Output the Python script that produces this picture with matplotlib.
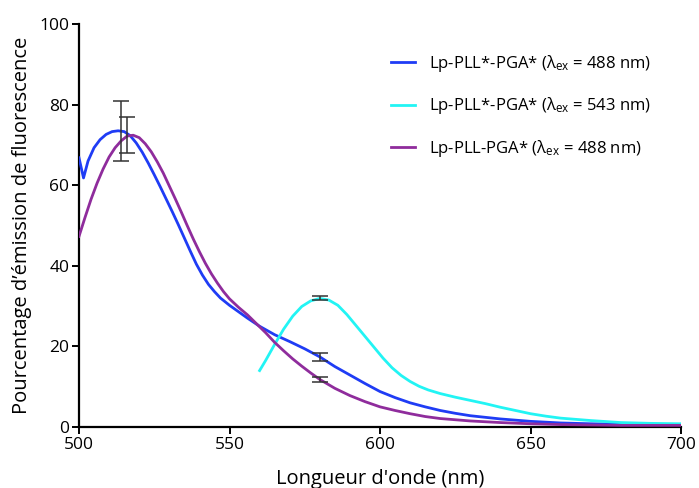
import matplotlib
matplotlib.use("Agg")
import matplotlib.pyplot as plt

plt.rcParams['font.family'] = ['Open Sans', 'DejaVu Sans']
plt.rcParams['mathtext.fontset'] = 'custom'
plt.rcParams['mathtext.rm'] = 'Open Sans'
plt.rcParams['mathtext.it'] = 'Open Sans'

# Lp-PLL*-PGA* (λex = 488 nm)
blue_x = [500, 501.5, 503, 505, 507, 509, 511, 513, 515, 517, 519, 521, 523, 525, 527,
          529, 531, 533, 535, 537, 539, 541, 543, 545, 547, 550, 553, 556, 560, 565,
          570, 575, 580, 585, 590, 595, 600, 605, 610, 615, 620, 625, 630, 640, 650,
          660, 670, 680, 690, 700]
blue_y = [66.8, 61.8, 66.0, 69.3, 71.3, 72.6, 73.3, 73.5, 73.3, 72.3, 70.5, 68.2, 65.5, 62.6, 59.6,
          56.5, 53.4, 50.2, 46.9, 43.6, 40.4, 37.7, 35.4, 33.6, 32.0, 30.2, 28.6, 27.0, 25.0, 22.9,
          21.2, 19.4, 17.4, 15.0, 12.9, 10.8, 8.8, 7.3, 6.0, 5.0, 4.1, 3.4, 2.8, 2.0, 1.4,
          1.0, 0.8, 0.7, 0.6, 0.6]

# Lp-PLL*-PGA* (λex = 543 nm)
cyan_x = [560, 562, 565, 568, 571, 574, 577, 580, 583, 586, 589, 592, 595, 598, 601,
          604, 607, 610, 613, 616, 620, 625, 630, 635, 640, 645, 650, 655, 660, 670,
          680, 690, 700]
cyan_y = [14.0, 16.5, 20.5, 24.3, 27.5, 29.9, 31.3, 31.9, 31.5, 30.2, 27.9, 25.2, 22.5, 19.8, 17.1,
          14.7, 12.8, 11.3, 10.1, 9.2, 8.3, 7.4, 6.6, 5.8, 4.9, 4.1, 3.3, 2.7, 2.2, 1.6,
          1.1, 0.9, 0.8]

# Lp-PLL-PGA* (λex = 488 nm)
purple_x = [500, 502, 504, 506, 508, 510, 512, 514, 516, 518, 520, 522, 524, 526, 528,
            530, 532, 534, 536, 538, 540, 542, 544, 546, 548, 550, 553, 556, 559, 562,
            565, 568, 571, 574, 577, 580, 585, 590, 595, 600, 605, 610, 615, 620, 630,
            640, 650, 660, 670, 680, 700]
purple_y = [47.3, 52.0, 56.5, 60.5, 64.0, 67.0, 69.3, 71.0, 72.2, 72.4, 71.8, 70.3, 68.3, 65.8, 63.0,
            59.8, 56.6, 53.3, 49.9, 46.6, 43.5, 40.6, 38.0, 35.7, 33.6, 31.8, 29.7, 27.8, 25.6, 23.4,
            21.0, 18.9, 16.9, 15.1, 13.4, 11.8, 9.6, 7.8, 6.3, 5.0, 4.1, 3.3, 2.6, 2.1, 1.5,
            1.1, 0.8, 0.6, 0.5, 0.4, 0.4]

# error bars (x, mean, error)
blue_err_x = [514, 580]
blue_err_y = [73.5, 17.4]
blue_err_e = [7.5, 1.0]
cyan_err_x = [580]
cyan_err_y = [32.0]
cyan_err_e = [0.6]
purple_err_x = [516, 580]
purple_err_y = [72.4, 11.8]
purple_err_e = [4.4, 0.6]

labels = [r"Lp-PLL*-PGA* (λ$_{\mathrm{ex}}$ = 488 nm)",
          r"Lp-PLL*-PGA* (λ$_{\mathrm{ex}}$ = 543 nm)",
          r"Lp-PLL-PGA* (λ$_{\mathrm{ex}}$ = 488 nm)"]
colors = ["#1f3cf5", "#22f4f4", "#8f2c9c"]

fig = plt.figure(figsize=(6.99, 4.88), dpi=100)
ax = fig.add_axes([79/699, 1-427/488, (681-79)/699, (427-24)/488])

ax.plot(blue_x, blue_y, color=colors[0], lw=2, label=labels[0], zorder=3)
ax.plot(cyan_x, cyan_y, color=colors[1], lw=2, label=labels[1], zorder=3)
ax.plot(purple_x, purple_y, color=colors[2], lw=2, label=labels[2], zorder=3)

ekw = dict(fmt='none', ecolor='#333333', elinewidth=1.1, capsize=6, capthick=1.1, zorder=4)
ax.errorbar(blue_err_x, blue_err_y, yerr=blue_err_e, **ekw)
ax.errorbar(cyan_err_x, cyan_err_y, yerr=cyan_err_e, **ekw)
ax.errorbar(purple_err_x, purple_err_y, yerr=purple_err_e, **ekw)

ax.set_xlim(500, 700)
ax.set_ylim(0, 100)
ax.set_xticks([500, 550, 600, 650, 700])
ax.set_yticks([0, 20, 40, 60, 80, 100])
for s in ['top', 'right']:
    ax.spines[s].set_visible(False)
for s in ['left', 'bottom']:
    ax.spines[s].set_linewidth(1.6)
ax.tick_params(axis='both', direction='out', length=5, width=1.4, labelsize=12.5, pad=2)
ax.set_xlabel("Longueur d'onde (nm)", fontsize=14.5, labelpad=12)
ax.set_ylabel("Pourcentage d’émission de fluorescence", fontsize=14.5, labelpad=5)

leg = ax.legend(loc='upper left', bbox_to_anchor=(0.51, 0.94), frameon=False,
                fontsize=12, handlelength=1.45, handletextpad=0.8, labelspacing=1.27,
                borderaxespad=0, borderpad=0.3)

fig.savefig("out.png", dpi=100)
